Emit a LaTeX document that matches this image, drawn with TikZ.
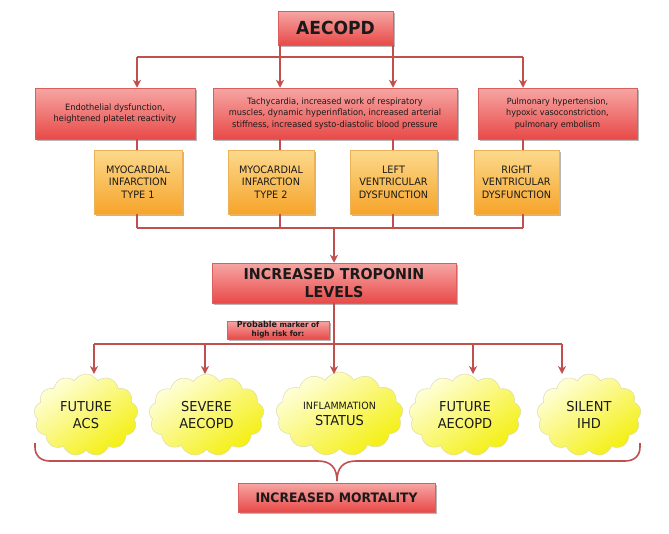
\documentclass[tikz,border=0pt]{standalone}
\usepackage{fontspec}
\setmainfont{DejaVu Sans}[FakeStretch=0.95]
\usetikzlibrary{shapes.symbols,shadows,arrows.meta,calc}
\definecolor{conn}{HTML}{C0504D}
\definecolor{redtop}{HTML}{F6A6A4}
\definecolor{redbot}{HTML}{E84A48}
\definecolor{redline}{HTML}{D9605E}
\definecolor{orgtop}{HTML}{FCD98C}
\definecolor{orgbot}{HTML}{F6A42A}
\definecolor{orgline}{HTML}{EBB25A}
\definecolor{ylwlight}{HTML}{FFFFDC}
\definecolor{ylwdark}{HTML}{F4EF10}
\definecolor{ylwline}{HTML}{DCDCA8}
\definecolor{txt}{HTML}{1A1A1A}
\tikzset{
  boxshadow/.style={drop shadow={shadow xshift=1.5pt,shadow yshift=-1.8pt,opacity=0.4,fill=black!70}},
  redbox/.style={draw=redline, line width=0.5pt, top color=redtop, bottom color=redbot,
    boxshadow, inner sep=0pt, align=center, text=txt},
  orgbox/.style={draw=orgline, line width=0.5pt, top color=orgtop, bottom color=orgbot,
    boxshadow, inner sep=0pt, align=center, text=txt,
    font=\fontsize{10.2}{12.4}\selectfont},
  cloudnode/.style={cloud, cloud puffs=13, cloud puff arc=120, cloud ignores aspect,
    draw=ylwline, line width=0.5pt, top color=ylwlight, bottom color=ylwdark, shading angle=35,
    inner sep=0pt, align=center, text=txt, font=\fontsize{13.7}{16.7}\selectfont},
  line/.style={draw=conn, line width=1.5pt},
  arr/.style={line, -{Stealth[length=8pt,width=8pt,inset=2.5pt]}},
}
\begin{document}
\begin{tikzpicture}[x=1pt,y=-1pt]
\useasboundingbox (0,0) rectangle (669,533);

% top
\node[redbox, minimum width=115pt, minimum height=34pt, font=\bfseries\fontsize{18}{20}\selectfont]
  (aecopd) at (335.5,28) {AECOPD};

\node[redbox, minimum width=160pt, minimum height=51pt, font=\fontsize{8.7}{11.7}\selectfont]
  (r1) at (115,113.5) {Endothelial dysfunction,\\heightened platelet reactivity};
\node[redbox, minimum width=244pt, minimum height=51pt, font=\fontsize{8.7}{11.9}\selectfont]
  (r2) at (335,113.5) {Tachycardia, increased work of respiratory\\muscles, dynamic hyperinflation, increased arterial\\stiffness, increased systo-diastolic blood pressure};
\node[redbox, minimum width=159pt, minimum height=51pt, font=\fontsize{8.5}{11.7}\selectfont]
  (r3) at (557.5,113.5) {Pulmonary hypertension,\\hypoxic vasoconstriction,\\pulmonary embolism};

\node[orgbox, minimum width=88pt, minimum height=64pt] (o1) at (138,182) {MYOCARDIAL\\INFARCTION\\TYPE 1};
\node[orgbox, minimum width=86pt, minimum height=64pt] (o2) at (271,182) {MYOCARDIAL\\INFARCTION\\TYPE 2};
\node[orgbox, minimum width=87pt, minimum height=64pt] (o3) at (393.5,182) {LEFT\\VENTRICULAR\\DYSFUNCTION};
\node[orgbox, minimum width=85pt, minimum height=64pt] (o4) at (516.5,182) {RIGHT\\VENTRICULAR\\DYSFUNCTION};

\node[redbox, minimum width=244pt, minimum height=40pt, font=\bfseries\fontsize{15}{17.5}\selectfont]
  (trop) at (334,283) {INCREASED TROPONIN\\LEVELS};

\node[redbox, minimum width=102pt, minimum height=18pt, font=\bfseries\fontsize{7.6}{9}\selectfont]
  (prob) at (278,330) {{\fontsize{8.4}{9}\selectfont Probable} marker of\\high risk for:};

% clouds
\node[cloudnode, minimum width=104pt, minimum height=82pt] (c1) at (86,415) {FUTURE\\ACS};
\node[cloudnode, minimum width=115pt, minimum height=82pt] (c2) at (206.5,415) {SEVERE\\AECOPD};
\node[cloudnode, minimum width=127pt, minimum height=84pt] (c3) at (339.5,414)
  {{\fontsize{10}{12}\selectfont INFLAMMATION}\\STATUS};
\node[cloudnode, minimum width=112pt, minimum height=82pt] (c4) at (465,415) {FUTURE\\AECOPD};
\node[cloudnode, minimum width=104pt, minimum height=82pt] (c5) at (589,415) {SILENT\\IHD};

\node[redbox, minimum width=197pt, minimum height=29pt, font=\bfseries\fontsize{13}{15}\selectfont]
  (mort) at (336.5,497.5) {INCREASED MORTALITY};

% connectors top
\coordinate (j1) at (137,57);
\coordinate (j2) at (280,57);
\coordinate (j3) at (393,57);
\coordinate (j4) at (523,57);
\draw[line] (aecopd.south -| j2) -- (j2);
\draw[line] (aecopd.south -| j3) -- (j3);
\draw[line] (j1) -- (j4);
\draw[arr] (j1) -- (r1.north -| j1);
\draw[arr] (j2) -- (r2.north -| j2);
\draw[arr] (j3) -- (r2.north -| j3);
\draw[arr] (j4) -- (r3.north -| j4);

\draw[line] (r1.south -| j1) -- (o1.north -| j1);
\draw[line] (r2.south -| j2) -- (o2.north -| j2);
\draw[line] (r2.south -| j3) -- (o3.north -| j3);
\draw[line] (r3.south -| j4) -- (o4.north -| j4);

\coordinate (k1) at (137,228);
\coordinate (k2) at (280,228);
\coordinate (k3) at (393,228);
\coordinate (k4) at (523,228);
\draw[line] (o1.south -| k1) -- (k1);
\draw[line] (o2.south -| k2) -- (k2);
\draw[line] (o3.south -| k3) -- (k3);
\draw[line] (o4.south -| k4) -- (k4);
\draw[line] (k1) -- (k4);
\draw[arr] (trop.north |- k1) -- (trop.north);

% connectors bottom
\coordinate (l1) at (94,344);
\coordinate (l2) at (205,344);
\coordinate (l4) at (473,344);
\coordinate (l5) at (562,344);
\coordinate (e1) at (94,374);
\draw[line] (l1) -- (l5);
\draw[arr] (l1) -- (e1);
\draw[arr] (l2) -- (l2 |- e1);
\draw[arr] (trop.south) -- (trop.south |- e1);
\draw[arr] (l4) -- (l4 |- e1);
\draw[arr] (l5) -- (l5 |- e1);

% brace
\coordinate (bl) at (35,443);
\coordinate (br) at (640,443);
\coordinate (bt) at (337,481);
\draw[line, line width=1.6pt] (bl) -- (35,447) .. controls (35,456) and (41,461) .. (50,461)
  -- (318,461) .. controls (331,461) and (337,468) .. (bt)
  .. controls (337,468) and (343,461) .. (356,461)
  -- (625,461) .. controls (634,461) and (640,456) .. (640,447) -- (br);
\end{tikzpicture}
\end{document}
